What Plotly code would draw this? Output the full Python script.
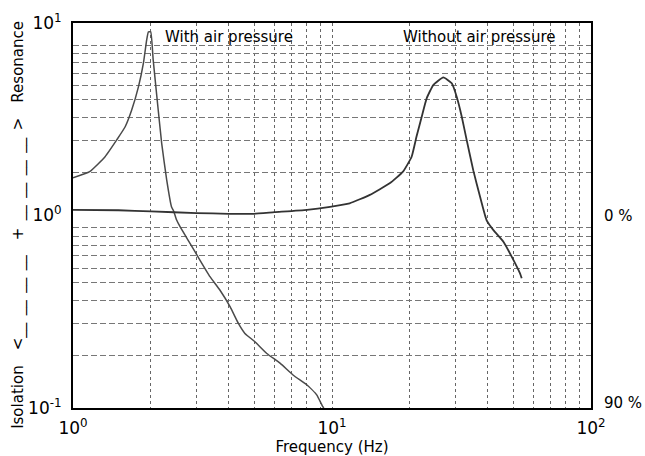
import math
import plotly.graph_objects as go

# Data
with_air_freq = [1.0, 1.16, 1.33, 1.475, 1.59, 1.685, 1.79, 1.87, 1.925, 1.955, 1.995,
                 2.04, 2.12, 2.2, 2.3, 2.4, 2.45, 2.51, 2.59, 2.83, 3.09, 3.38, 3.69,
                 4.04, 4.35, 4.61, 5.04, 5.6, 6.3, 7.09, 7.99, 8.73, 9.2, 9.3]
with_air_resp = [1.57, 1.69, 2.02, 2.47, 2.89, 3.53, 4.67, 6.18, 8.16, 9.0, 9.0,
                 6.43, 3.83, 2.37, 1.53, 1.11, 1.05, 0.95, 0.875, 0.717, 0.587, 0.481, 0.41,
                 0.336, 0.275, 0.244, 0.221, 0.192, 0.171, 0.148, 0.132, 0.117, 0.102, 0.1]

without_freq = [1.0, 1.5, 2.0, 3.0, 4.0, 5.0, 6.0, 8.0, 9.83, 11.7, 14.0, 16.7, 18.8,
                20.3, 21.2, 22.2, 23.2, 24.6, 26.9, 29.0, 30.3, 31.7, 33.1, 35.1, 37.3,
                39.5, 42.0, 45.9, 49.4, 53.2, 54.0]
without_resp = [1.07, 1.065, 1.05, 1.03, 1.02, 1.02, 1.04, 1.07, 1.11, 1.157, 1.28, 1.47, 1.69,
                2.02, 2.57, 3.26, 4.06, 4.76, 5.22, 4.86, 4.14, 3.26, 2.47, 1.72, 1.25,
                0.947, 0.84, 0.731, 0.611, 0.50, 0.472]

x_tick_vals = [1, 10, 100]
x_tick_text = ["10<sup>0</sup>", "10<sup>1</sup>", "10<sup>2</sup>"]
y_tick_vals = [0.1, 1, 10]
y_tick_text = ["10<sup>-1</sup>", "10<sup>0</sup>", "10<sup>1</sup>"]
right_labels = ["90 %", "0 %"]
right_label_vals = [0.1, 1]

FONT = "DejaVu Sans"

fig = go.Figure()

# invisible trace to anchor the grid overlay axis
fig.add_trace(go.Scatter(x=[1], y=[1], yaxis="y2", mode="markers",
                         marker=dict(opacity=0), hoverinfo="skip", showlegend=False))

fig.add_trace(go.Scatter(x=with_air_freq, y=with_air_resp, mode="lines",
                         line=dict(color="#4a4a4a", width=1.5, shape="spline", smoothing=0.4),
                         hoverinfo="skip", showlegend=False))
fig.add_trace(go.Scatter(x=without_freq, y=without_resp, mode="lines",
                         line=dict(color="#333333", width=1.8, shape="spline", smoothing=0.4),
                         hoverinfo="skip", showlegend=False))

fig.update_layout(
    width=645, height=456,
    margin=dict(l=73, r=54, t=23, b=48),
    paper_bgcolor="white", plot_bgcolor="white",
    font=dict(family=FONT, color="black", size=15),
    xaxis=dict(
        type="log", range=[0, 2], tickmode="array", tickvals=x_tick_vals, ticktext=x_tick_text,
        showgrid=True, gridcolor="#666666", griddash="dot", gridwidth=1,
        minor=dict(dtick="D1", showgrid=True, gridcolor="#666666", griddash="dot", gridwidth=1, ticks=""),
        showline=True, mirror=True, linecolor="black", linewidth=2, ticks="",
        tickfont=dict(size=17), ticklabelstandoff=4, zeroline=False, automargin=False,
        title=dict(text="Frequency (Hz)", font=dict(size=15), standoff=9),
    ),
    yaxis=dict(
        type="log", range=[-1, 1], tickmode="array", tickvals=y_tick_vals, ticktext=y_tick_text,
        showgrid=False, showline=True, mirror=True, linecolor="black", linewidth=2,
        ticks="", tickfont=dict(size=17), ticklabelstandoff=6, zeroline=False, automargin=False,
    ),
    yaxis2=dict(
        type="log", range=[-0.987, 1.1204], overlaying="y", side="left",
        showgrid=True, gridcolor="#777777", griddash="6px,3px", gridwidth=1,
        minor=dict(dtick="D1", showgrid=True, gridcolor="#777777", griddash="6px,3px", gridwidth=1, ticks=""),
        showticklabels=False, ticks="", showline=False, zeroline=False,
    ),
)

sp = "\u2002"
ytitle = ("Isolation" + sp + sp + "<__" + sp + "__" + sp + "__" + sp + "__" + sp + sp + "+" + sp
          + "__" + sp + "__" + sp + "__" + sp + "__" + sp + ">" + sp + sp + "Resonance")

annotations = [
    dict(text="With air pressure", x=0.3475, y=0.927, xref="x", yref="y",
         xanchor="left", yanchor="middle", showarrow=False, font=dict(size=15)),
    dict(text="Without air pressure", x=1.2664, y=0.927, xref="x", yref="y",
         xanchor="left", yanchor="middle", showarrow=False, font=dict(size=15)),
    dict(text=ytitle, x=-0.104, y=0.476, xref="paper", yref="paper", textangle=-90,
         xanchor="center", yanchor="middle", showarrow=False, font=dict(size=15)),
]
for lab, val in zip(right_labels, right_label_vals):
    annotations.append(dict(text=lab, x=1.021, y=math.log10(val), xref="paper", yref="y",
                            xanchor="left", yanchor="middle", showarrow=False,
                            yshift=5 if val < 0.5 else 0, font=dict(size=15)))
fig.update_layout(annotations=annotations)

fig.write_html("out.html")
